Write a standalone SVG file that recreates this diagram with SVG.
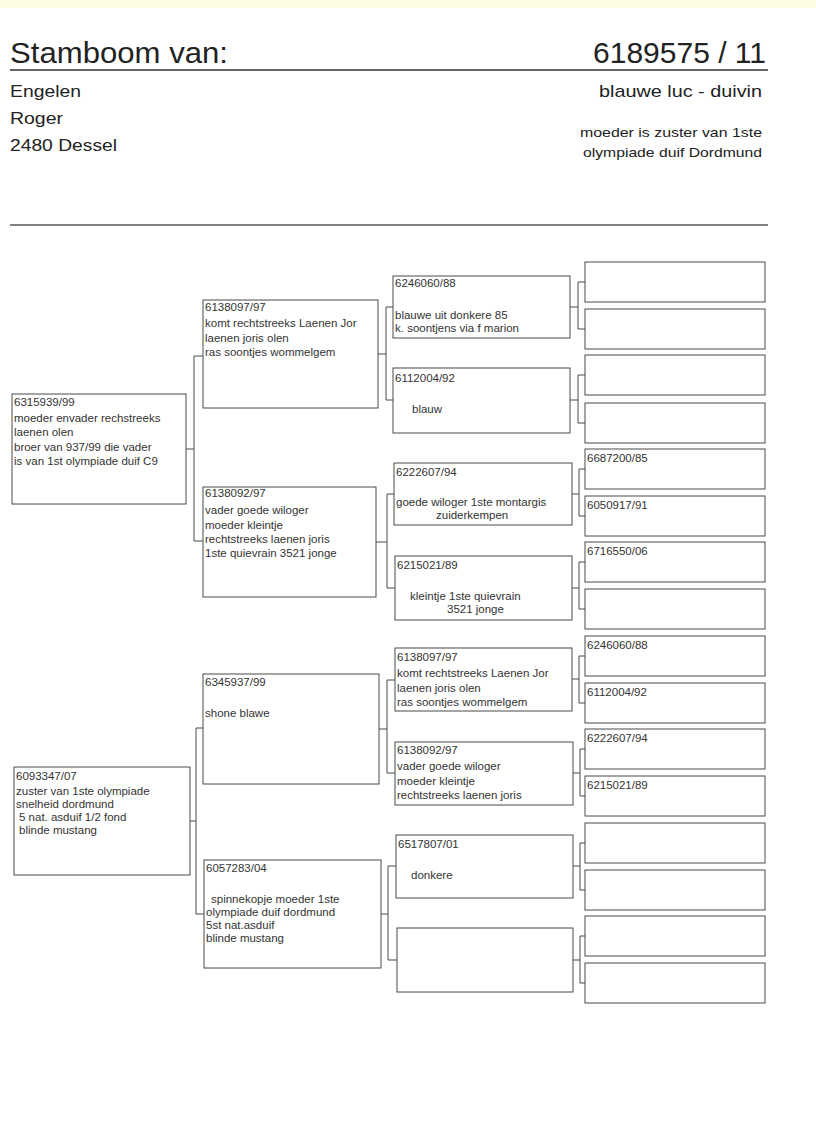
<svg xmlns="http://www.w3.org/2000/svg" width="816" height="1145" viewBox="0 0 816 1145">
<style>
.bg{fill:#ffffff}
.box{fill:#ffffff;stroke:#4a4a4a;stroke-width:1}
.conn{fill:none;stroke:#4a4a4a;stroke-width:1}
.rule{stroke:#333;stroke-width:1.3}
.t{font-family:"Liberation Sans",Arial,sans-serif;font-size:11.5px;fill:#333}
.h1{font-family:"Liberation Sans",Arial,sans-serif;font-size:30px;fill:#222}
.h2{font-family:"Liberation Sans",Arial,sans-serif;font-size:17px;fill:#222}
.h3{font-family:"Liberation Sans",Arial,sans-serif;font-size:13.5px;fill:#222}
</style>
<rect class="bg" x="0" y="0" width="816" height="1145"/>
<rect x="0" y="0" width="816" height="8" fill="#fdfde6"/>
<g id="header">
<text class="h1" x="10" y="63" textLength="218" lengthAdjust="spacingAndGlyphs">Stamboom van:</text>
<text class="h1" x="766" y="63" text-anchor="end">6189575 / 11</text>
<line class="rule" x1="10" y1="70" x2="768" y2="70"/>
<text class="h2" x="10" y="97" textLength="71" lengthAdjust="spacingAndGlyphs">Engelen</text>
<text class="h2" x="10" y="124" textLength="53" lengthAdjust="spacingAndGlyphs">Roger</text>
<text class="h2" x="10" y="151" textLength="107" lengthAdjust="spacingAndGlyphs">2480 Dessel</text>
<text class="h2" x="599" y="97" textLength="163" lengthAdjust="spacingAndGlyphs">blauwe luc - duivin</text>
<text class="h3" x="580" y="137" textLength="182" lengthAdjust="spacingAndGlyphs">moeder is zuster van 1ste</text>
<text class="h3" x="583" y="157" textLength="179" lengthAdjust="spacingAndGlyphs">olympiade duif Dordmund</text>
<line x1="10" y1="225" x2="768" y2="225" stroke="#555" stroke-width="1.4"/>
</g>
<g id="connectors">
<path class="conn" d="M186,449 H194 M194,356 V541 M194,356 H203 M194,541 H203"/>
<path class="conn" d="M190,821 H196 M196,728 V914 M196,728 H203 M196,914 H204"/>
<path class="conn" d="M378,354 H386 M386,307 V400 M386,307 H393 M386,400 H393"/>
<path class="conn" d="M376,542 H387 M387,494 V588 M387,494 H394 M387,588 H395"/>
<path class="conn" d="M379,729 H387 M387,680 V773 M387,680 H395 M387,773 H395"/>
<path class="conn" d="M381,914 H388 M388,866 V960 M388,866 H396 M388,960 H397"/>
<path class="conn" d="M570,307 H578 M578,282 V329 M578,282 H585 M578,329 H585"/>
<path class="conn" d="M570,400 H578 M578,375 V423 M578,375 H585 M578,423 H585"/>
<path class="conn" d="M572,494 H579 M579,469 V516 M579,469 H585 M579,516 H585"/>
<path class="conn" d="M572,588 H579 M579,562 V609 M579,562 H585 M579,609 H585"/>
<path class="conn" d="M572,679 H579 M579,656 V703 M579,656 H585 M579,703 H585"/>
<path class="conn" d="M573,773 H580 M580,749 V796 M580,749 H585 M580,796 H585"/>
<path class="conn" d="M573,866 H580 M580,843 V890 M580,843 H585 M580,890 H585"/>
<path class="conn" d="M573,960 H580 M580,936 V983 M580,936 H585 M580,983 H585"/>
</g>
<g id="n-6315939">
<rect class="box" x="12" y="394" width="174" height="110"/>
<text class="t" x="14" y="406">6315939/99</text>
<text class="t" x="14" y="422">moeder envader rechstreeks</text>
<text class="t" x="14" y="436">laenen olen</text>
<text class="t" x="14" y="451">broer van 937/99 die vader</text>
<text class="t" x="14" y="465">is van 1st olympiade duif C9</text>
</g>
<g id="n-6093347">
<rect class="box" x="14" y="767" width="176" height="108"/>
<text class="t" x="16" y="780">6093347/07</text>
<text class="t" x="16" y="795">zuster van 1ste olympiade</text>
<text class="t" x="16" y="808">snelheid dordmund</text>
<text class="t" x="19" y="821">5 nat. asduif 1/2 fond</text>
<text class="t" x="19" y="834">blinde mustang</text>
</g>
<g id="n-6138097a">
<rect class="box" x="203" y="300" width="175" height="108"/>
<text class="t" x="205" y="311">6138097/97</text>
<text class="t" x="205" y="327">komt rechtstreeks Laenen Jor</text>
<text class="t" x="205" y="342">laenen joris olen</text>
<text class="t" x="205" y="356">ras soontjes wommelgem</text>
</g>
<g id="n-6138092a">
<rect class="box" x="203" y="487" width="173" height="110"/>
<text class="t" x="205" y="497">6138092/97</text>
<text class="t" x="205" y="514">vader goede wiloger</text>
<text class="t" x="205" y="529">moeder kleintje</text>
<text class="t" x="205" y="543">rechtstreeks laenen joris</text>
<text class="t" x="205" y="557">1ste quievrain 3521 jonge</text>
</g>
<g id="n-6345937">
<rect class="box" x="203" y="674" width="176" height="110"/>
<text class="t" x="205" y="686">6345937/99</text>
<text class="t" x="205" y="717">shone blawe</text>
</g>
<g id="n-6057283">
<rect class="box" x="204" y="860" width="177" height="108"/>
<text class="t" x="206" y="872">6057283/04</text>
<text class="t" x="211" y="903">spinnekopje moeder 1ste</text>
<text class="t" x="206" y="916">olympiade duif dordmund</text>
<text class="t" x="206" y="929">5st nat.asduif</text>
<text class="t" x="206" y="942">blinde mustang</text>
</g>
<g id="n-6246060a">
<rect class="box" x="393" y="276" width="177" height="62"/>
<text class="t" x="395" y="287">6246060/88</text>
<text class="t" x="395" y="319">blauwe uit donkere 85</text>
<text class="t" x="395" y="332">k. soontjens via f marion</text>
</g>
<g id="n-6112004a">
<rect class="box" x="393" y="368" width="177" height="65"/>
<text class="t" x="395" y="382">6112004/92</text>
<text class="t" x="412" y="413">blauw</text>
</g>
<g id="n-6222607a">
<rect class="box" x="394" y="463" width="178" height="62"/>
<text class="t" x="396" y="476">6222607/94</text>
<text class="t" x="396" y="506">goede wiloger 1ste montargis</text>
<text class="t" x="436" y="519">zuiderkempen</text>
</g>
<g id="n-6215021a">
<rect class="box" x="395" y="556" width="177" height="64"/>
<text class="t" x="397" y="569">6215021/89</text>
<text class="t" x="410" y="600">kleintje 1ste quievrain</text>
<text class="t" x="447" y="613">3521 jonge</text>
</g>
<g id="n-6138097b">
<rect class="box" x="395" y="648" width="177" height="63"/>
<text class="t" x="397" y="661">6138097/97</text>
<text class="t" x="397" y="677">komt rechtstreeks Laenen Jor</text>
<text class="t" x="397" y="692">laenen joris olen</text>
<text class="t" x="397" y="706">ras soontjes wommelgem</text>
</g>
<g id="n-6138092b">
<rect class="box" x="395" y="742" width="178" height="63"/>
<text class="t" x="397" y="754">6138092/97</text>
<text class="t" x="397" y="770">vader goede wiloger</text>
<text class="t" x="397" y="785">moeder kleintje</text>
<text class="t" x="397" y="799">rechtstreeks laenen joris</text>
</g>
<g id="n-6517807">
<rect class="box" x="396" y="835" width="177" height="63"/>
<text class="t" x="398" y="848">6517807/01</text>
<text class="t" x="411" y="879">donkere</text>
</g>
<g id="n-c8">
<rect class="box" x="397" y="928" width="176" height="64"/>
</g>
<g id="n-g4-01"><rect class="box" x="585" y="262" width="180" height="40"/></g>
<g id="n-g4-02"><rect class="box" x="585" y="309" width="180" height="40"/></g>
<g id="n-g4-03"><rect class="box" x="585" y="355" width="180" height="40"/></g>
<g id="n-g4-04"><rect class="box" x="585" y="403" width="180" height="40"/></g>
<g id="n-g4-05"><rect class="box" x="585" y="449" width="180" height="40"/><text class="t" x="587" y="462">6687200/85</text></g>
<g id="n-g4-06"><rect class="box" x="585" y="496" width="180" height="40"/><text class="t" x="587" y="509">6050917/91</text></g>
<g id="n-g4-07"><rect class="box" x="585" y="542" width="180" height="40"/><text class="t" x="587" y="555">6716550/06</text></g>
<g id="n-g4-08"><rect class="box" x="585" y="589" width="180" height="40"/></g>
<g id="n-g4-09"><rect class="box" x="585" y="636" width="180" height="40"/><text class="t" x="587" y="649">6246060/88</text></g>
<g id="n-g4-10"><rect class="box" x="585" y="683" width="180" height="40"/><text class="t" x="587" y="696">6112004/92</text></g>
<g id="n-g4-11"><rect class="box" x="585" y="729" width="180" height="40"/><text class="t" x="587" y="742">6222607/94</text></g>
<g id="n-g4-12"><rect class="box" x="585" y="776" width="180" height="40"/><text class="t" x="587" y="789">6215021/89</text></g>
<g id="n-g4-13"><rect class="box" x="585" y="823" width="180" height="40"/></g>
<g id="n-g4-14"><rect class="box" x="585" y="870" width="180" height="40"/></g>
<g id="n-g4-15"><rect class="box" x="585" y="916" width="180" height="40"/></g>
<g id="n-g4-16"><rect class="box" x="585" y="963" width="180" height="40"/></g>
</svg>
